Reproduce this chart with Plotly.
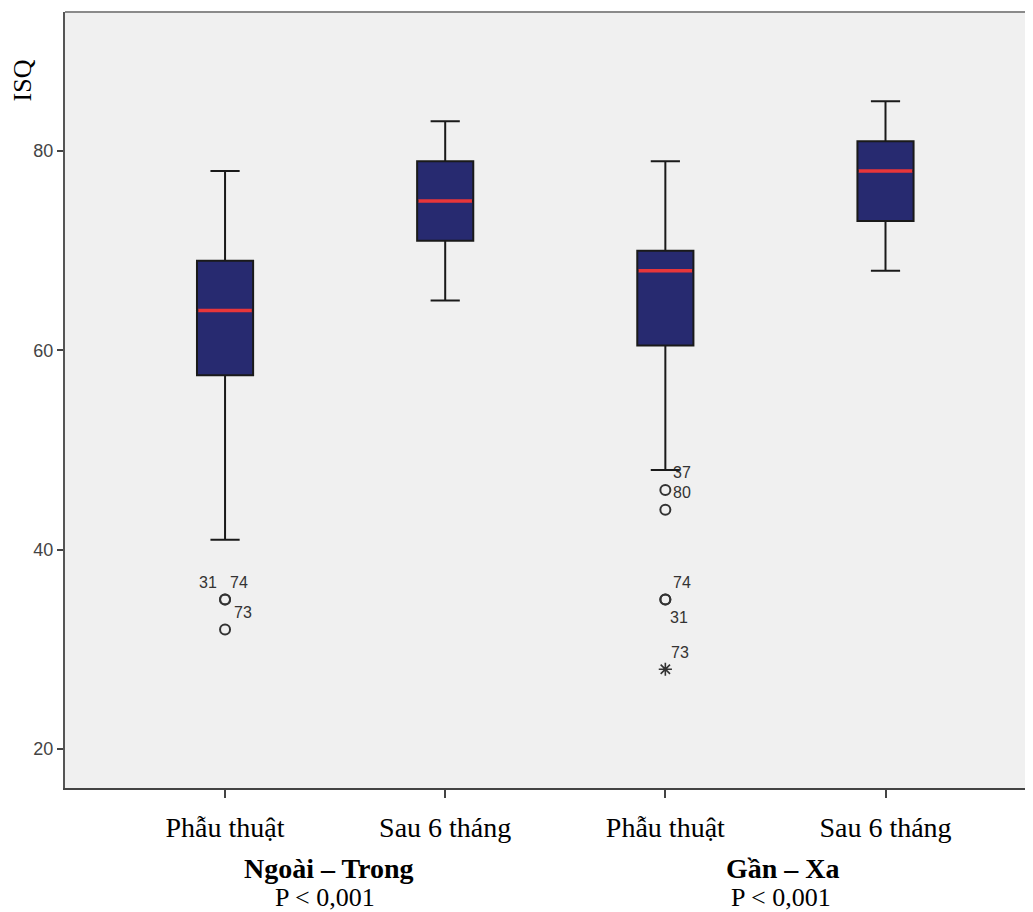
import plotly.graph_objects as go

# ---- data ----
categories = ["Phẫu thuật", "Sau 6 tháng", "Phẫu thuật", "Sau 6 tháng"]
q1 = [57.5, 71, 60.5, 73]
median = [64, 75, 68, 78]
q3 = [69, 79, 70, 81]
lower_whisker = [41, 65, 48, 68]
upper_whisker = [78, 83, 79, 85]

# outliers (circle): group index, value, case label
out_group = [0, 0, 0, 2, 2, 2, 2]
out_value = [35, 35, 32, 46, 44, 35, 35]
out_label = ["31", "74", "73", "37", "80", "74", "31"]
# extremes (star)
ext_group = [2]
ext_value = [28]
ext_label = ["73"]

group_titles = ["Ngoài – Trong", "Gần – Xa"]
p_values = ["P < 0,001", "P < 0,001"]
y_ticks = [20, 40, 60, 80]

# ---- styles ----
BOX_FILL = "#272A70"
MEDIAN_RED = "#E8363A"
BOX_W = 0.255
label_offsets = [(-17, 17), (14, 17), (18, 17), (17, 17), (17, 17), (17, 17), (14, -18)]
title_xshift = [-6, 8]
p_xshift = [-10, 6]

fig = go.Figure()
xs = list(range(len(categories)))
fig.add_trace(go.Box(
    x=xs, q1=q1, median=median, q3=q3,
    lowerfence=lower_whisker, upperfence=upper_whisker,
    fillcolor=BOX_FILL, line=dict(color="#1a1a1a", width=2),
    width=BOX_W, whiskerwidth=0.52, boxpoints=False, showlegend=False,
    hoverinfo="skip",
))
# red medians
for i, m in enumerate(median):
    fig.add_trace(go.Scatter(
        x=[i - BOX_W / 2 + 0.006, i + BOX_W / 2 - 0.006], y=[m, m], mode="lines",
        line=dict(color=MEDIAN_RED, width=3.5), showlegend=False, hoverinfo="skip",
    ))
# outliers
fig.add_trace(go.Scatter(
    x=out_group, y=out_value, mode="markers",
    marker=dict(symbol="circle-open", size=10, color="#333333", line=dict(width=2)),
    showlegend=False, hoverinfo="skip",
))
fig.add_trace(go.Scatter(
    x=ext_group, y=ext_value, mode="markers",
    marker=dict(symbol="asterisk-open", size=11, color="#333333", line=dict(width=1.6)),
    showlegend=False, hoverinfo="skip",
))

lab_font = dict(family="Liberation Sans, Arial", size=16, color="#333333")
for (g, v, t), (dx, dy) in zip(zip(out_group, out_value, out_label), label_offsets):
    fig.add_annotation(x=g, y=v, text=t, showarrow=False, xshift=dx, yshift=dy, font=lab_font)
for g, v, t in zip(ext_group, ext_value, ext_label):
    fig.add_annotation(x=g, y=v, text=t, showarrow=False, xshift=15, yshift=17, font=lab_font)

# group titles and p values
serif = "Liberation Serif, Times New Roman, serif"
for k, (gt, pv) in enumerate(zip(group_titles, p_values)):
    cx = 2 * k + 0.5
    fig.add_annotation(x=cx, y=0, xref="x", yref="paper", text="<b>" + gt + "</b>",
                       showarrow=False, yanchor="middle", yshift=-80, xshift=title_xshift[k],
                       font=dict(family=serif, size=28, color="black"))
    fig.add_annotation(x=cx, y=0, xref="x", yref="paper", text=pv,
                       showarrow=False, yanchor="middle", yshift=-109, xshift=p_xshift[k],
                       font=dict(family=serif, size=26, color="black"))

# y axis title
fig.add_annotation(x=0, y=87.1, xref="paper", yref="y", text="ISQ", textangle=-90,
                   showarrow=False, xshift=-43, xanchor="center", yanchor="middle",
                   font=dict(family=serif, size=26, color="black"))

# top border
fig.add_shape(type="line", xref="paper", yref="paper", x0=0, x1=1, y0=1, y1=1,
              line=dict(color="#8a8a8a", width=2))

# page has an 8px body margin: figure is sized/offset to compensate
fig.update_layout(
    width=1025, height=904,
    margin=dict(l=57, r=0, t=4, b=124),
    paper_bgcolor="white", plot_bgcolor="#F0F0F0",
    xaxis=dict(
        range=[-0.727, 3.67], tickvals=xs, ticktext=categories,
        showgrid=False, zeroline=False, showline=True, linecolor="#444444", linewidth=2,
        ticks="outside", ticklen=8, tickwidth=2, tickcolor="#444444",
        ticklabelstandoff=5,
        tickfont=dict(family=serif, size=28, color="black"),
    ),
    yaxis=dict(
        range=[16.08, 93.97], tickvals=y_ticks, showgrid=False, zeroline=False,
        showline=True, linecolor="#555555", linewidth=2,
        ticks="outside", ticklen=6, tickwidth=2, tickcolor="#444444",
        tickfont=dict(family="Liberation Sans, Arial", size=18, color="#444444"),
    ),
)

fig.write_html("out.html")
